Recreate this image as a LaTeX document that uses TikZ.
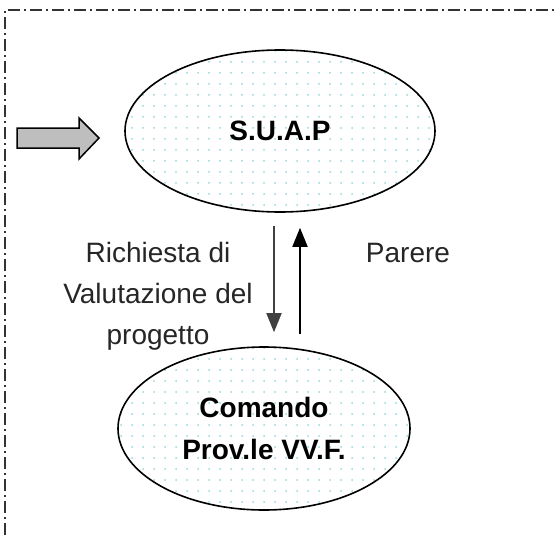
\documentclass[tikz,border=0pt]{standalone}
\usepackage{fontspec}
\setmainfont{Liberation Sans}
\usetikzlibrary{shapes.geometric,arrows.meta,patterns.meta,calc}

\definecolor{puntini}{RGB}{150,215,222}
\definecolor{grigiofreccia}{RGB}{190,190,190}

\tikzset{
  ente/.style={ellipse, draw, line width=1.6pt, inner sep=0pt,
    pattern={Dots[distance=11pt, radius=1pt]}, pattern color=puntini,
    font=\fontsize{28}{42}\selectfont\bfseries, align=center},
  flusso/.style={line width=1.8pt, -{Triangle[width=15pt,length=19pt]}},
  etichetta/.style={font=\fontsize{28}{41}\selectfont, text=black!85, align=center}
}

\begin{document}
\begin{tikzpicture}[x=1pt,y=-1pt]
\useasboundingbox (0,0) rectangle (556,535);

% cornice tratto-punto
\draw[line width=1.5pt, black!80, dash pattern=on 12pt off 4pt on 2pt off 4pt]
  (5,535) -- (5,10) -- (556,10);

% freccia di ingresso
\draw[line width=1.5pt, fill=grigiofreccia, line join=miter]
  (17,128) -- (79,128) -- (79,118) -- (99,138) -- (79,159) -- (79,148) -- (17,148) -- cycle;

\node[ente, minimum width=310pt, minimum height=162pt] (suap) at (280,131) {S.U.A.P};
\node[ente, minimum width=292pt, minimum height=163pt] (comando) at (264,428.5) {Comando\\Prov.le VV.F.};

\draw[flusso, black!75] ($(suap.south)+(-6,13)$) -- ($(comando.north)+(10,-14)$);
\draw[flusso] ($(comando.north)+(36,-12)$) -- ($(suap.south)+(20,15)$);

\node[etichetta] (richiesta) at (158,296) {Richiesta di\\Valutazione del\\progetto};
\node[etichetta] (parere) at (408,253) {Parere};
\end{tikzpicture}
\end{document}
